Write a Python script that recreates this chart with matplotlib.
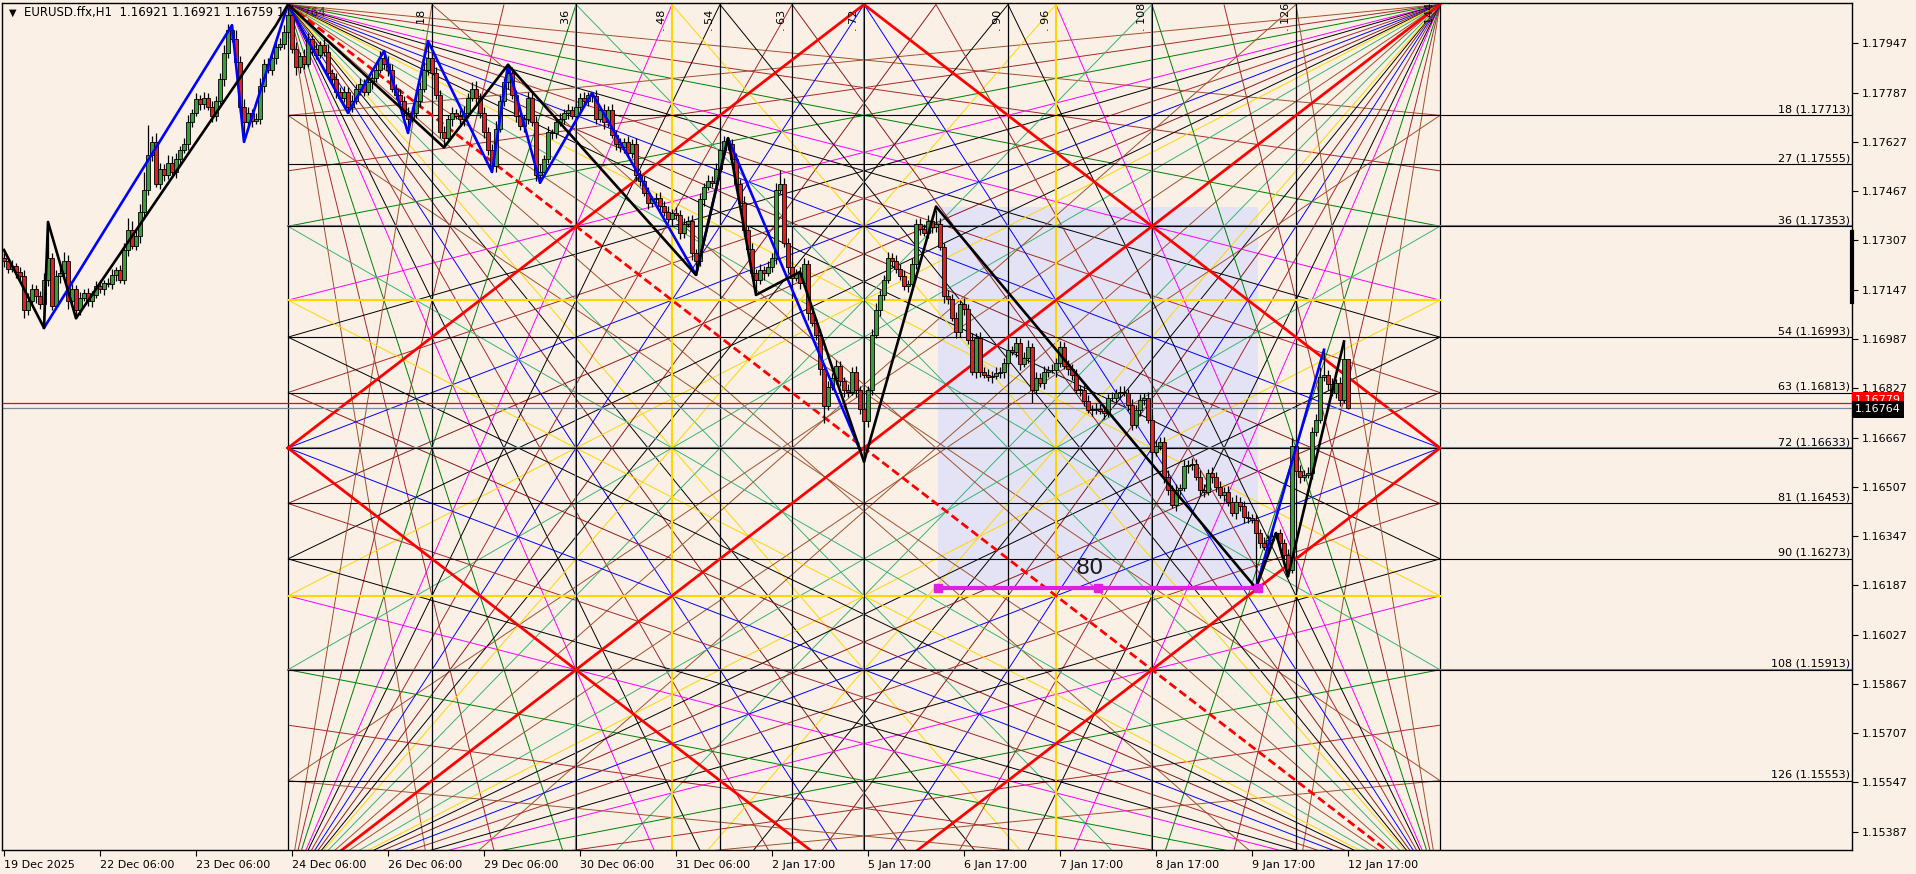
import matplotlib
matplotlib.use("Agg")
import matplotlib.pyplot as plt
from matplotlib.collections import LineCollection
from matplotlib.patches import Rectangle
import matplotlib.transforms as mtransforms

# ------------------------------------------------------------------ DATA
header_text = "EURUSD.ffx,H1  1.16921 1.16921 1.16759 1.16764"
PRICE_BASE = 1.16
PT = 1e-5
first_open_pt = 1250
close_pt = [
    1240, 1215, 1225, 1205, 1190, 1080, 1110, 1150, 1125, 1100,
    1180, 1250, 1095, 1190, 1200, 1240, 1110, 1150, 1080, 1120,
    1135, 1110, 1130, 1160, 1150, 1170, 1165, 1195, 1210, 1180,
    1275, 1340, 1290, 1320, 1400, 1470, 1585, 1625, 1490, 1540,
    1520, 1560, 1530, 1570, 1600, 1620, 1690, 1720, 1765, 1750,
    1770, 1740, 1710, 1760, 1830, 1915, 1990, 1960, 1885, 1740,
    1690, 1720, 1695, 1700, 1810, 1880, 1860, 1900, 1935, 1945,
    1985, 2040, 1930, 1870, 1905, 1880, 1960, 1930, 1910, 1940,
    1920, 1850, 1830, 1790, 1770, 1790, 1740, 1760, 1800, 1815,
    1790, 1820, 1835, 1860, 1900, 1880, 1860, 1800, 1780, 1760,
    1720, 1700, 1720, 1760, 1800, 1860, 1900, 1850, 1780, 1660,
    1640, 1700, 1720, 1710, 1700, 1720, 1770, 1800, 1770, 1720,
    1660, 1600, 1550, 1670, 1760, 1820, 1850, 1780, 1710, 1680,
    1700, 1770, 1690, 1520, 1530, 1570, 1660, 1655, 1690, 1700,
    1720, 1730, 1710, 1740, 1770, 1760, 1780, 1775, 1700, 1730,
    1690, 1730, 1650, 1620, 1610, 1625, 1590, 1620, 1520, 1500,
    1460, 1430, 1440, 1445, 1420, 1400, 1375, 1395, 1390, 1330,
    1360, 1370, 1265, 1240, 1440, 1480, 1500, 1495, 1540, 1600,
    1630, 1620, 1570, 1490, 1430, 1340, 1280, 1200, 1180, 1210,
    1200, 1220, 1250, 1470, 1490, 1300, 1220, 1185, 1200, 1170,
    1230, 1070, 1040, 1000, 890, 770, 830, 860, 900, 850,
    820, 815, 880, 820, 760, 720, 820, 1000, 1080, 1130,
    1180, 1250, 1240, 1215, 1190, 1160, 1165, 1230, 1360, 1345,
    1330, 1370, 1350, 1360, 1285, 1125, 1117, 1055, 1010, 1100,
    1085, 985, 880, 990, 880, 870, 865, 868, 875, 880,
    910, 950, 945, 975, 905, 925, 960, 820, 860, 845,
    880, 885, 885, 910, 962, 900, 890, 870, 822, 822,
    784, 757, 757, 760, 752, 748, 794, 795, 810, 815,
    811, 773, 708, 757, 789, 795, 724, 621, 638, 654,
    540, 497, 448, 497, 502, 573, 578, 582, 540, 497,
    490, 551, 540, 505, 481, 490, 459, 421, 459, 445,
    410, 405, 400, 356, 324, 313, 335, 346, 356, 324,
    286, 237, 640, 557, 540, 545, 551, 686, 724, 865,
    870, 840, 811, 843, 790, 921, 764,
]
upper_wick_pt = [
    15, 12, 20, 10, 15, 20, 25, 15, 12, 18,
    20, 118, 15, 20, 25, 30, 20, 15, 12, 20,
    15, 18, 12, 15, 20, 10, 15, 20, 12, 18,
    25, 40, 30, 20, 25, 60, 97, 20, 30, 20,
    15, 25, 20, 20, 15, 20, 25, 15, 20, 15,
    20, 15, 20, 15, 20, 25, 20, 16, 30, 20,
    25, 20, 15, 20, 25, 15, 20, 15, 15, 20,
    20, 33, 30, 20, 15, 25, 20, 15, 20, 15,
    20, 25, 15, 20, 15, 20, 15, 20, 15, 20,
    15, 20, 15, 20, 22, 22, 25, 20, 15, 20,
    15, 20, 20, 15, 20, 25, 54, 30, 20, 15,
    20, 15, 20, 15, 20, 25, 15, 20, 25, 15,
    20, 15, 20, 25, 20, 15, 27, 20, 15, 20,
    15, 20, 15, 20, 25, 15, 20, 10, 15, 20,
    15, 20, 15, 10, 15, 20, 10, 7, 20, 15,
    20, 15, 20, 15, 20, 15, 20, 15, 20, 15,
    15, 20, 10, 15, 20, 15, 20, 15, 20, 15,
    20, 15, 20, 15, 20, 15, 20, 15, 20, 15,
    15, 9, 15, 20, 15, 20, 15, 20, 15, 20,
    15, 20, 15, 25, 46, 20, 15, 20, 15, 20,
    20, 15, 20, 15, 20, 15, 20, 15, 20, 15,
    15, 20, 15, 20, 15, 20, 15, 20, 25, 15,
    15, 20, 15, 20, 15, 20, 15, 20, 15, 20,
    15, 20, 15, 47, 20, 15, 20, 15, 20, 15,
    20, 15, 20, 15, 20, 15, 20, 15, 20, 15,
    15, 20, 15, 20, 15, 20, 25, 15, 20, 15,
    20, 15, 20, 15, 20, 15, 20, 15, 20, 15,
    15, 20, 15, 20, 15, 20, 15, 20, 15, 20,
    20, 15, 20, 15, 20, 15, 20, 15, 20, 15,
    15, 20, 15, 20, 15, 20, 15, 20, 15, 20,
    20, 15, 20, 15, 20, 15, 20, 15, 20, 15,
    15, 20, 15, 20, 15, 20, 15, 20, 5, 15,
    15, 20, 25, 15, 20, 15, 20, 15, 20, 30,
    82, 15, 20, 15, 20, 58, 0,
]
lower_wick_pt = [
    20, 15, 10, 20, 15, 25, 15, 10, 20, 15,
    78, 20, 15, 10, 20, 15, 25, 10, 26, 15,
    10, 15, 20, 10, 15, 20, 10, 15, 20, 10,
    15, 20, 10, 15, 20, 25, 15, 20, 10, 15,
    20, 15, 10, 20, 15, 10, 20, 15, 10, 20,
    15, 10, 20, 15, 10, 20, 15, 10, 20, 15,
    62, 15, 20, 10, 15, 20, 10, 15, 20, 10,
    15, 20, 15, 25, 20, 15, 10, 20, 15, 10,
    15, 20, 15, 20, 10, 15, 20, 15, 10, 20,
    15, 10, 20, 15, 10, 15, 20, 10, 15, 20,
    15, 44, 10, 15, 20, 10, 15, 20, 15, 20,
    31, 15, 20, 10, 15, 20, 15, 10, 20, 15,
    20, 15, 19, 20, 10, 15, 20, 15, 20, 15,
    20, 15, 10, 20, 26, 15, 10, 20, 15, 10,
    15, 20, 10, 15, 20, 10, 15, 20, 15, 10,
    20, 15, 10, 20, 15, 20, 10, 15, 20, 15,
    10, 20, 15, 10, 20, 15, 10, 20, 15, 20,
    15, 10, 20, 45, 15, 20, 10, 15, 20, 10,
    15, 20, 10, 20, 15, 20, 10, 15, 50, 15,
    20, 10, 15, 20, 10, 15, 20, 15, 10, 20,
    15, 20, 10, 15, 20, 57, 15, 10, 20, 15,
    20, 15, 10, 20, 15, 131, 20, 15, 10, 20,
    15, 10, 20, 15, 10, 15, 20, 10, 15, 20,
    10, 15, 20, 15, 10, 20, 15, 10, 20, 15,
    20, 15, 10, 20, 15, 10, 15, 20, 10, 15,
    20, 15, 10, 15, 20, 10, 15, 40, 10, 15,
    20, 15, 10, 20, 15, 10, 20, 15, 10, 20,
    15, 10, 20, 15, 10, 20, 15, 10, 20, 15,
    10, 20, 15, 10, 20, 15, 10, 20, 15, 10,
    20, 15, 10, 20, 15, 10, 20, 15, 10, 20,
    15, 10, 20, 15, 10, 20, 15, 10, 20, 15,
    20, 15, 10, 178, 15, 10, 20, 15, 10, 20,
    15, 21, 10, 15, 20, 15, 10, 20, 15, 10,
    15, 20, 10, 15, 20, 10, 5,
]

x_tick_bars = [0, 24, 48, 72, 96, 120, 144, 168, 192, 216, 240, 264, 288, 312, 336]
x_tick_labels = ["19 Dec 2025", "22 Dec 06:00", "23 Dec 06:00", "24 Dec 06:00",
                 "26 Dec 06:00", "29 Dec 06:00", "30 Dec 06:00", "31 Dec 06:00",
                 "2 Jan 17:00", "5 Jan 17:00", "6 Jan 17:00", "7 Jan 17:00",
                 "8 Jan 17:00", "9 Jan 17:00", "12 Jan 17:00"]
y_tick_values = [1.17947, 1.17787, 1.17627, 1.17467, 1.17307, 1.17147, 1.16987,
                 1.16827, 1.16667, 1.16507, 1.16347, 1.16187, 1.16027, 1.15867,
                 1.15707, 1.15547, 1.15387]

# Gann square
gann_origin_bar = 71
gann_bars_per_unit = 2
gann_top_price = 1.18073
gann_price_per_unit = 0.0002
gann_size = 144
gann_divisions = [18, 27, 36, 48, 54, 63, 72, 81, 90, 96, 108, 126]
gann_div_colors = ['#A0522D', '#A52A2A', '#008000', '#FF00FF', '#000000', '#A52A2A',
                   '#0000FF', '#8B1A1A', '#000000', '#FFD700', '#3CB371', '#A0522D']

level_names = [18, 27, 36, 54, 63, 72, 81, 90, 108, 126]
level_prices = [1.17713, 1.17555, 1.17353, 1.16993, 1.16813, 1.16633, 1.16453,
                1.16273, 1.15913, 1.15553]
blue_levels = [36, 72, 108]
yellow_levels = [48, 96]
time_lines = [0, 18, 36, 48, 54, 63, 72, 90, 96, 108, 126, 144]
time_line_colors = ['#000000', '#000000', '#1E90FF', '#FFD700', '#000000', '#000000',
                    '#1E90FF', '#000000', '#FFD700', '#1E90FF', '#000000', '#000000']

zigzag_blue = [
    [(10, 1.17023), (57, 1.18006), (60, 1.17627), (71, 1.18073), (86, 1.17721),
     (95, 1.17922), (101, 1.17656), (106, 1.17954), (122, 1.17529), (126, 1.17877),
     (134, 1.17494), (147, 1.17786), (173, 1.17195), (181, 1.17639), (214, 1.16627)],
    [(313, 1.16178), (330, 1.16952)],
]
zigzag_black = [(0, 1.17276), (10, 1.17023), (11, 1.17367), (18, 1.17054), (68, 1.18006),
                (71, 1.18073), (110, 1.17609), (126, 1.17877), (173, 1.17195),
                (181, 1.17639), (188, 1.17130), (199, 1.17205), (215, 1.16588),
                (233, 1.17417), (313, 1.16178), (318, 1.16357), (321, 1.16216),
                (335, 1.16979)]

box_bars = (233, 313)
box_prices = (1.17417, 1.16178)
box_count_text = "80"
bid_price = 1.16764
ask_price = 1.16779

# ------------------------------------------------------------------ FIGURE
BG = '#FAF0E6'
W, H = 1916, 874
fig = plt.figure(figsize=(W / 100, H / 100), dpi=100)
fig.patch.set_facecolor(BG)
ax = fig.add_axes([2 / W, 24 / H, 1850 / W, 847 / H])
ax.set_facecolor(BG)
XMIN, XMAX = -0.5, 462.0
YMIN, YMAX = 1.153277, 1.180779
ax.set_xlim(XMIN, XMAX)
ax.set_ylim(YMIN, YMAX)


def gpt(u, v):
    return (gann_origin_bar + gann_bars_per_unit * u, gann_top_price - gann_price_per_unit * v)


S = gann_size
# ---- fans from the four corners
segs, cols = [], []
corners = [(0, 0), (S, 0), (0, S), (S, S)]
for cu, cv in corners:
    su = 1 if cu == 0 else -1
    sv = 1 if cv == 0 else -1
    opp_u = S - cu
    opp_v = S - cv
    for d, c in zip(gann_divisions, gann_div_colors):
        segs.append([gpt(cu, cv), gpt(opp_u, cv + sv * d)])
        cols.append(c)
        segs.append([gpt(cu, cv), gpt(cu + su * d, opp_v)])
        cols.append(c)
ax.add_collection(LineCollection(segs, colors=cols, linewidths=0.7, zorder=1))

# main diagonals and diamond
ax.plot(*zip(gpt(0, 0), gpt(S, S)), color='#FF0000', lw=2.0, ls=(0, (3, 1.5)), zorder=2)
ax.plot(*zip(gpt(S, 0), gpt(0, S)), color='#FF0000', lw=2.0, zorder=2)
diamond = [gpt(0, S / 2), gpt(S / 2, 0), gpt(S, S / 2), gpt(S / 2, S), gpt(0, S / 2)]
ax.plot(*zip(*diamond), color='#FF0000', lw=2.0, zorder=2)

# ---- time lines (verticals) with top labels
for t, c in zip(time_lines, time_line_colors):
    x = gpt(t, 0)[0]
    if c == '#1E90FF':
        ax.axvline(x, color=c, lw=1.5, zorder=1.6)
        ax.axvline(x, color='#000000', lw=0.7, zorder=1.7)
    elif c == '#FFD700':
        ax.axvline(x, color=c, lw=1.5, zorder=1.6)
    else:
        ax.axvline(x, color=c, lw=0.9, zorder=1.6)
    if t > 0:
        ax.text(x - 1.3, 1.18073 - 0.00085, ". " + str(t), rotation=90, ha='right',
                va='bottom', fontsize=8, color='black', clip_on=True, zorder=6)

# ---- price levels (horizontals)
x_level0 = gpt(0, 0)[0]
for n, p in zip(level_names, level_prices):
    if n in blue_levels:
        ax.plot([x_level0, XMAX], [p, p], color='#1E90FF', lw=1.5, zorder=1.6)
    ax.plot([x_level0, XMAX], [p, p], color='black', lw=0.8, zorder=1.7)
    ax.text(XMAX - 0.4, p + 0.00003, f"{n} ({p:.5f})", ha='right', va='bottom',
            fontsize=8, color='black', zorder=6)
for n in yellow_levels:
    p = gpt(0, n)[1]
    ax.plot([gpt(0, 0)[0], gpt(S, 0)[0]], [p, p], color='#FFD700', lw=1.5, zorder=1.6)

# ---- lavender box
bx0, bx1 = box_bars
ax.add_patch(Rectangle((bx0 + 0.5, box_prices[1]), bx1 - bx0, box_prices[0] - box_prices[1],
                       facecolor='#E3E3F5', edgecolor='none', zorder=0.5))

# ---- bid / ask lines
ax.axhline(ask_price, color='#FF0000', lw=0.9, zorder=2.5)
ax.axhline(bid_price, color='#778899', lw=0.9, zorder=2.5)

# ---- candles
opens = [first_open_pt] + close_pt[:-1]
for i, (o, c, hu, hl) in enumerate(zip(opens, close_pt, upper_wick_pt, lower_wick_pt)):
    top, bot = max(o, c), min(o, c)
    hi = (top + hu) * PT + PRICE_BASE
    lo = (bot - hl) * PT + PRICE_BASE
    ax.plot([i, i], [lo, hi], color='black', lw=0.9, zorder=3, solid_capstyle='butt')
    col = '#3C9C3C' if c >= o else '#E02020'
    h = max((top - bot) * PT, 0.000015)
    ax.add_patch(Rectangle((i - 0.4, bot * PT + PRICE_BASE), 0.8, h, facecolor=col,
                           edgecolor='black', lw=0.6, zorder=3.1))

# ---- zigzags
for seg in zigzag_blue:
    ax.plot(*zip(*seg), color='#0000FF', lw=1.9, zorder=4)
ax.plot(*zip(*zigzag_black), color='black', lw=1.9, zorder=4.1)

# ---- magenta low line with markers and count
mx = [bx0 + 0.5, (bx0 + bx1) / 2 + 0.5, bx1 + 0.5]
ax.plot([mx[0], mx[2]], [box_prices[1]] * 2, color='#E020E0', lw=3, zorder=5)
ax.plot(mx, [box_prices[1]] * 3, ls='none', marker='s', ms=5.5, color='#E020E0', zorder=5)
ax.text(271.5, 1.16242, box_count_text, fontsize=16, ha='center', va='center',
        color='#1A1A1A', zorder=6)

# ---- header
ax.text(22 / 1850, 1 - 10 / 847, header_text, transform=ax.transAxes, fontsize=8.5,
        ha='left', va='center', color='black', zorder=0.8)
ax.text(7 / 1850, 1 - 10 / 847, "\u25BC", transform=ax.transAxes, fontsize=7,
        ha='left', va='center', color='black', zorder=0.8)

# ---- axes styling
for sp in ax.spines.values():
    sp.set_color('black')
    sp.set_linewidth(1.0)
ax.yaxis.tick_right()
ax.set_yticks(y_tick_values)
ax.set_yticklabels([f"{v:.5f}" for v in y_tick_values])
ax.tick_params(axis='y', direction='out', length=4, width=0.8, pad=3, labelsize=8,
               colors='black')
ax.set_xticks(x_tick_bars)
ax.set_xticklabels(x_tick_labels)
for lab in ax.get_xticklabels():
    lab.set_ha('left')
ax.tick_params(axis='x', direction='out', length=4, width=0.8, pad=3, labelsize=8,
               colors='black')

# thick mark on the right border
ax.plot([XMAX, XMAX], [1.17107, 1.17334], color='black', lw=3, clip_on=False, zorder=7)

# price tags on the right axis
blend = mtransforms.blended_transform_factory(ax.transAxes, ax.transData)
ax.text(1.0 + 3 / 1850, ask_price + 0.00010, "1.16779", transform=blend, fontsize=8,
        ha='left', va='center', color='white', clip_on=False, zorder=8,
        bbox=dict(boxstyle='square,pad=0.25', facecolor='#FF0000', edgecolor='none'))
ax.text(1.0 + 3 / 1850, bid_price - 0.00005, "1.16764", transform=blend, fontsize=8,
        ha='left', va='center', color='white', clip_on=False, zorder=9,
        bbox=dict(boxstyle='square,pad=0.3', facecolor='#000000', edgecolor='none'))

fig.savefig("out.png", dpi=100, facecolor=BG)
